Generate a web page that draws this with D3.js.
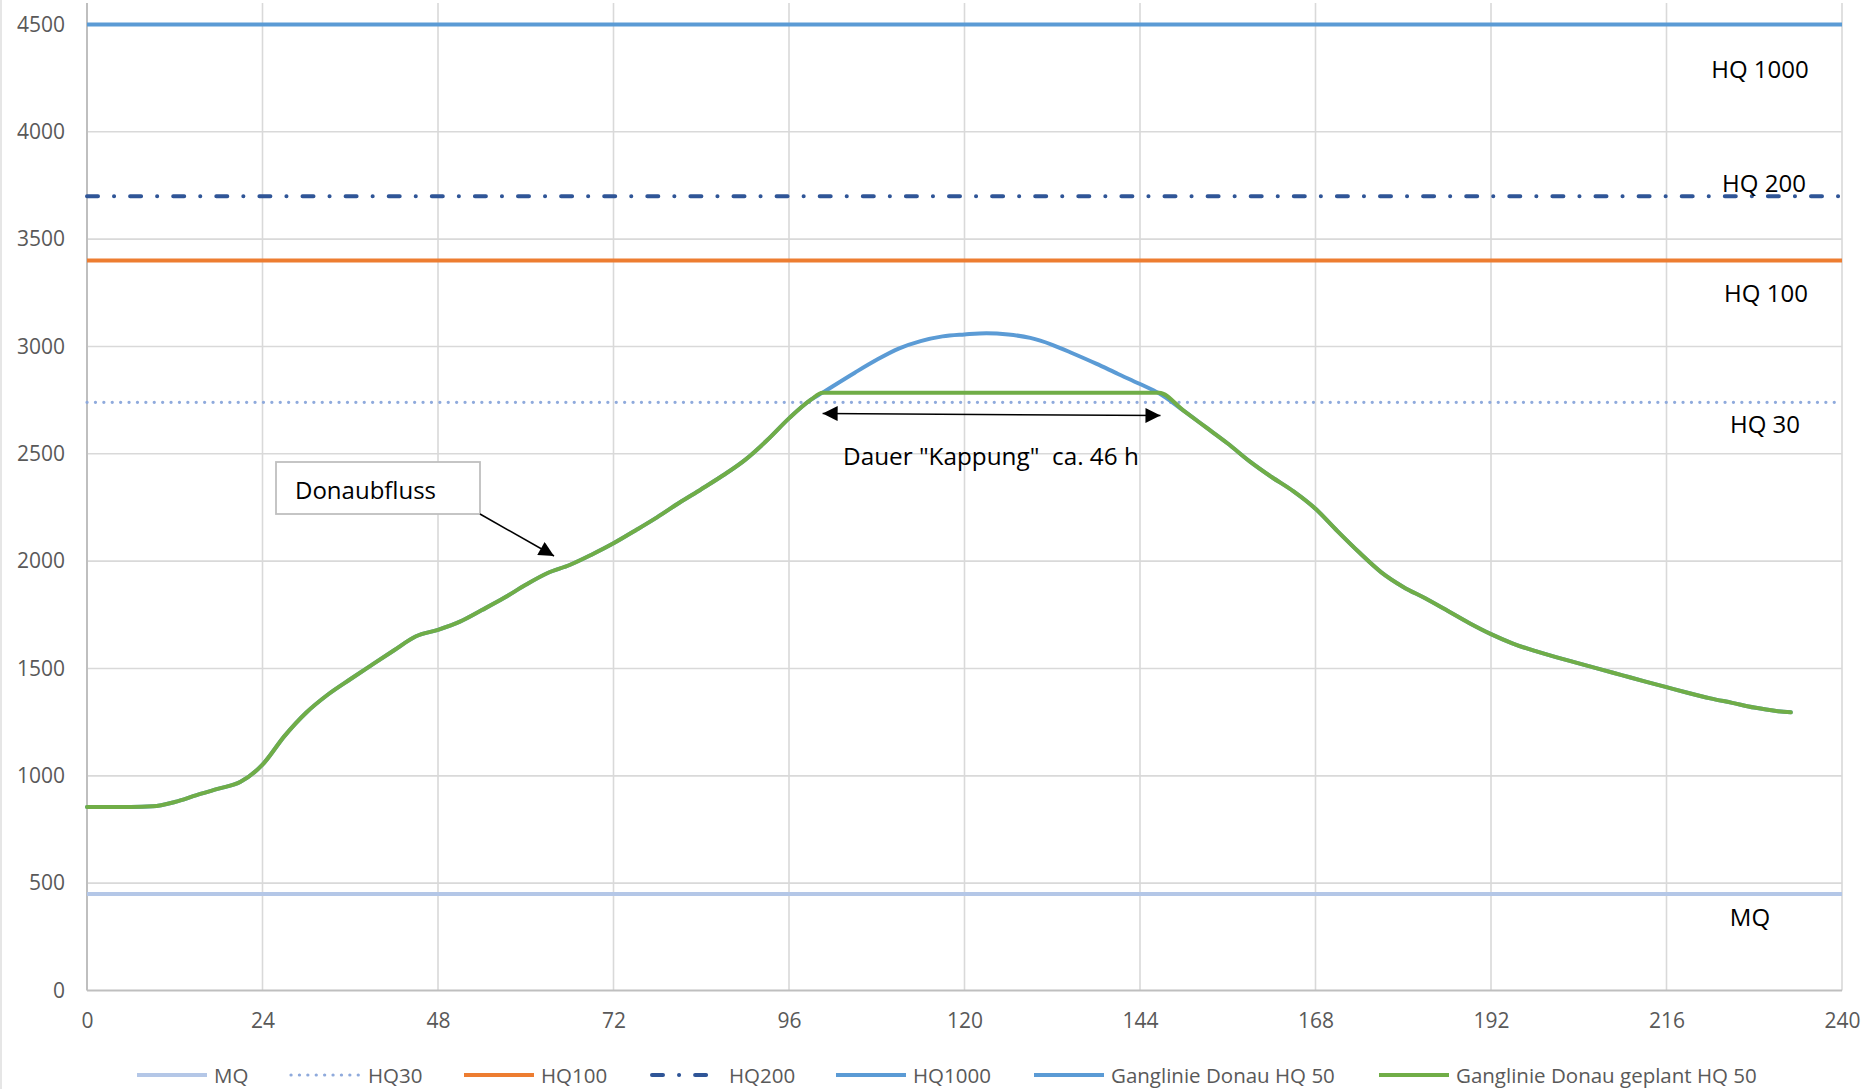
<!DOCTYPE html>
<html>
<head>
<meta charset="utf-8">
<script src="https://cdn.jsdelivr.net/npm/d3@7"></script>
<style>
  html, body { margin: 0; padding: 0; background: #fff; }
  svg { display: block; font-family: "Open Sans", "Noto Sans", sans-serif; }
</style>
</head>
<body>
<svg id="chart" width="1865" height="1089"></svg>
<script>
// ---------------- DATA ----------------
const xTicks = [0, 24, 48, 72, 96, 120, 144, 168, 192, 216, 240];
const yTicks = [0, 500, 1000, 1500, 2000, 2500, 3000, 3500, 4000, 4500];

// reference levels (m³/s)
const levelNames  = ["MQ", "HQ30", "HQ100", "HQ200", "HQ1000"];
const levelValues = [450, 2740, 3400, 3700, 4500];
const levelLabels = ["MQ", "HQ 30", "HQ 100", "HQ 200", "HQ 1000"];

// hydrograph hours
const hours = [0,3,6,9,12,15,18,21,24,27,30,33,36,39,42,45,48,51,54,57,60,63,66,69,72,75,78,81,84,87,90,93,96,99,
  100.6,102,105,108,111,114,117,120,123,126,129,132,135,138,141,144,146.6,
  150,153,156,159,162,165,168,171,174,177,180,183,186,189,192,195,198,201,204,207,210,213,216,219,222,225,228,231,233];

// Ganglinie Donau HQ 50
const hq50 = [855,855,855,858,878,910,940,972,1052,1185,1295,1380,1450,1518,1585,1650,1680,1718,1772,1828,1890,1945,1982,2030,2083,2143,2205,2272,2335,2400,2472,2563,2665,2752,
  2785,2815,2878,2938,2990,3025,3047,3056,3062,3056,3040,3008,2965,2920,2872,2825,2782,
  2700,2624,2548,2465,2392,2325,2244,2140,2040,1948,1880,1827,1770,1712,1660,1616,1582,1552,1524,1496,1468,1440,1413,1386,1361,1340,1318,1302,1296];

// Ganglinie Donau geplant HQ 50 (capped)
const hq50planned = [855,855,855,858,878,910,940,972,1052,1185,1295,1380,1450,1518,1585,1650,1680,1718,1772,1828,1890,1945,1982,2030,2083,2143,2205,2272,2335,2400,2472,2563,2665,2752,
  2785,2785,2785,2785,2785,2785,2785,2785,2785,2785,2785,2785,2785,2785,2785,2785,2785,
  2700,2624,2548,2465,2392,2325,2244,2140,2040,1948,1880,1827,1770,1712,1660,1616,1582,1552,1524,1496,1468,1440,1413,1386,1361,1340,1318,1302,1296];

const legendNames = ["MQ", "HQ30", "HQ100", "HQ200", "HQ1000", "Ganglinie Donau HQ 50", "Ganglinie Donau geplant HQ 50"];

// annotations
const kappungStart = [100.6, 2688];
const kappungEnd   = [146.8, 2678];
const kappungText  = 'Dauer "Kappung"  ca. 46 h';
const boxText = "Donaubfluss";

// ---------------- STYLES ----------------
const styles = {
  "MQ":     { color: "#b4c7e7", width: 4, dash: null, cap: "butt" },
  "HQ30":   { color: "#8faadc", width: 3.2, dash: "0.1 8.3", cap: "round" },
  "HQ100":  { color: "#ed7d31", width: 4, dash: null, cap: "butt" },
  "HQ200":  { color: "#2f5597", width: 4, dash: "11 16 0.1 16", cap: "round" },
  "HQ1000": { color: "#5b9bd5", width: 4, dash: null, cap: "butt" },
  "Ganglinie Donau HQ 50": { color: "#5b9bd5", width: 4, dash: null, cap: "round" },
  "Ganglinie Donau geplant HQ 50": { color: "#70ad47", width: 4, dash: null, cap: "round" }
};

// ---------------- CHART ----------------
const svg = d3.select("#chart");
const pLeft = 87, pRight = 1842, pTop = 3, pBottom = 990.5;
const x = d3.scaleLinear().domain([0, 240]).range([pLeft, pRight]);
const y = d3.scaleLinear().domain([0, 4600]).range([pBottom, pTop]);

// faint outer border on left
svg.append("line").attr("x1", 1).attr("x2", 1).attr("y1", 0).attr("y2", 1089)
  .attr("stroke", "#e6e6e6").attr("stroke-width", 2);

// gridlines
const grid = svg.append("g");
grid.selectAll("line.h").data(yTicks.filter(d => d > 0)).join("line")
  .attr("x1", pLeft).attr("x2", pRight).attr("y1", d => y(d)).attr("y2", d => y(d))
  .attr("stroke", "#d9d9d9").attr("stroke-width", 1.6);
grid.selectAll("line.v").data(xTicks.filter(d => d > 0)).join("line")
  .attr("x1", d => x(d)).attr("x2", d => x(d)).attr("y1", pTop).attr("y2", pBottom)
  .attr("stroke", "#d9d9d9").attr("stroke-width", 1.6);

// axes
const yAxis = svg.append("g").attr("transform", `translate(${pLeft},0)`)
  .call(d3.axisLeft(y).tickValues(yTicks).tickFormat(d3.format("d")).tickSize(0).tickPadding(22));
yAxis.select(".domain").attr("stroke", "#bfbfbf").attr("stroke-width", 2)
  .attr("d", `M0,${pTop}V${pBottom}`);
yAxis.selectAll("text").attr("fill", "#595959").style("font-size", "21px")
  .style("font-family", "'Open Sans', sans-serif");

const xAxis = svg.append("g").attr("transform", `translate(0,${pBottom})`)
  .call(d3.axisBottom(x).tickValues(xTicks).tickFormat(d3.format("d")).tickSize(0).tickPadding(23));
xAxis.select(".domain").attr("stroke", "#bfbfbf").attr("stroke-width", 2)
  .attr("d", `M${pLeft},0H${pRight}`);
xAxis.selectAll("text").attr("fill", "#595959").style("font-size", "21px")
  .style("font-family", "'Open Sans', sans-serif");

// level lines
levelNames.forEach((n, i) => {
  const s = styles[n];
  svg.append("line")
    .attr("x1", pLeft).attr("x2", pRight)
    .attr("y1", y(levelValues[i])).attr("y2", y(levelValues[i]))
    .attr("stroke", s.color).attr("stroke-width", s.width)
    .attr("stroke-dasharray", s.dash).attr("stroke-linecap", s.cap);
});

// hydrographs
const line = d3.line().x(d => x(d[0])).y(d => y(d[1])).curve(d3.curveMonotoneX);
[["Ganglinie Donau HQ 50", hq50], ["Ganglinie Donau geplant HQ 50", hq50planned]].forEach(([n, vals]) => {
  const s = styles[n];
  svg.append("path").datum(hours.map((h, i) => [h, vals[i]]))
    .attr("d", line).attr("fill", "none")
    .attr("stroke", s.color).attr("stroke-width", s.width)
    .attr("stroke-linejoin", "round").attr("stroke-linecap", s.cap);
});

// level labels (right side)
const labelPos = { "MQ": [1750, 916], "HQ 30": [1765, 423], "HQ 100": [1766, 292], "HQ 200": [1764, 182], "HQ 1000": [1760, 68] };
levelLabels.forEach(l => {
  svg.append("text").attr("x", labelPos[l][0]).attr("y", labelPos[l][1])
    .attr("text-anchor", "middle").attr("dominant-baseline", "central")
    .attr("fill", "#000").style("font-size", "24px").text(l);
});

// arrow markers
const defs = svg.append("defs");
defs.append("marker").attr("id", "arrowBig").attr("viewBox", "0 0 10 10")
  .attr("refX", 10).attr("refY", 5).attr("markerWidth", 16).attr("markerHeight", 15)
  .attr("markerUnits", "userSpaceOnUse").attr("orient", "auto-start-reverse")
  .append("path").attr("d", "M0,0L10,5L0,10Z").attr("fill", "#000");

// Kappung double arrow
svg.append("line")
  .attr("x1", x(kappungStart[0])).attr("y1", y(kappungStart[1]))
  .attr("x2", x(kappungEnd[0])).attr("y2", y(kappungEnd[1]))
  .attr("stroke", "#000").attr("stroke-width", 1.5)
  .attr("marker-start", "url(#arrowBig)").attr("marker-end", "url(#arrowBig)");
svg.append("text").attr("x", 843).attr("y", 455).attr("dominant-baseline", "central")
  .attr("fill", "#000").style("font-size", "24.3px").style("white-space", "pre")
  .text(kappungText);

// Donaubfluss callout
svg.append("rect").attr("x", 276).attr("y", 462).attr("width", 204).attr("height", 52)
  .attr("fill", "#fff").attr("stroke", "#bfbfbf").attr("stroke-width", 1.8);
svg.append("text").attr("x", 295).attr("y", 489).attr("dominant-baseline", "central")
  .attr("fill", "#000").style("font-size", "24px").text(boxText);
svg.append("line").attr("x1", 480).attr("y1", 514).attr("x2", 554).attr("y2", 556)
  .attr("stroke", "#000").attr("stroke-width", 1.5)
  .attr("marker-end", "url(#arrowBig)");

// legend (item start positions, layout only)
const legendX = [137, 291, 464, 652, 836, 1034, 1379];
const legend = svg.append("g");
const ly = 1075;
legendNames.forEach((n, i) => {
  const s = styles[n];
  const lx = legendX[i];
  legend.append("line").attr("x1", lx).attr("x2", lx + 70).attr("y1", ly).attr("y2", ly)
    .attr("stroke", s.color).attr("stroke-width", s.width)
    .attr("stroke-dasharray", s.dash).attr("stroke-linecap", s.dash ? "round" : "butt");
  legend.append("text").attr("x", lx + 77).attr("y", ly).attr("dominant-baseline", "central")
    .attr("fill", "#595959").style("font-size", "20.5px").text(n);
});
</script>
</body>
</html>
